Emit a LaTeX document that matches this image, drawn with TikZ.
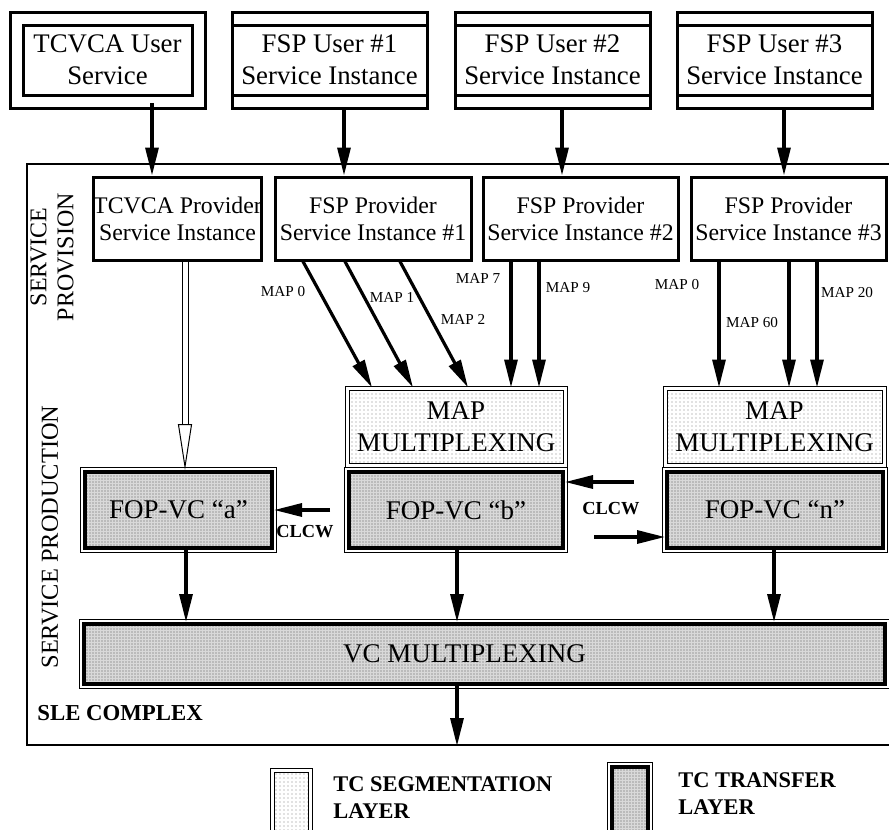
\documentclass[tikz,border=0pt]{standalone}
\usepackage{fontspec}
\setmainfont{Liberation Serif}
\usetikzlibrary{arrows.meta,patterns.meta}

\begin{document}
\begin{tikzpicture}[x=0.5pt,y=-0.5pt]
\tikzstyle{every node}=[inner sep=0pt]
\tikzstyle{usrsvc}=[rectangle, draw, line width=1.5pt, double, double distance=5pt, minimum width=91pt, minimum height=41.5pt, align=center, font=\fontsize{13.4}{16}\selectfont]
\tikzstyle{usr}=[rectangle, draw, line width=1.5pt, minimum width=97.5pt, minimum height=48pt, align=center, font=\fontsize{13.4}{16}\selectfont,
  path picture={\draw[line width=1.5pt] ([yshift=-6.5pt]path picture bounding box.north west) -- ([yshift=-6.5pt]path picture bounding box.north east)
    ([yshift=6.5pt]path picture bounding box.south west) -- ([yshift=6.5pt]path picture bounding box.south east);}]
\tikzstyle{prov}=[rectangle, draw, line width=1.5pt, minimum height=41.5pt, align=center, font=\fontsize{11.9}{13.5}\selectfont]
\tikzstyle{seg}=[rectangle, draw, line width=0.5pt, double, double distance=1.5pt, pattern={Dots[distance=2pt,radius=0.3pt]}, pattern color=gray, align=center, font=\fontsize{13.5}{16}\selectfont]
\tikzstyle{xfer}=[rectangle, draw, line width=2pt, preaction={fill=gray!30}, pattern={Dots[distance=1.5pt,radius=0.3pt]}, pattern color=gray!70!black, align=center, font=\fontsize{13.5}{16}\selectfont,
  append after command={\pgfextra{\draw[line width=0.5pt] ([shift={(-1.3pt,-1.3pt)}]\tikzlastnode.south west) rectangle ([shift={(1.3pt,1.3pt)}]\tikzlastnode.north east);}}]
\tikzstyle{arr}=[line width=1.6pt, -{Triangle[length=14pt,width=6.5pt]}]
\tikzstyle{hollow}=[line width=0.5pt, double, double distance=2.5pt, -{Triangle[open,length=23pt,width=7pt]}]
\tikzstyle{maplbl}=[font=\fontsize{7.6}{9}\selectfont]
\tikzstyle{clcw}=[font=\bfseries\fontsize{9.2}{11}\selectfont]
\tikzstyle{key}=[font=\bfseries\fontsize{11.2}{13.5}\selectfont, align=left, anchor=west]

\useasboundingbox (0,0) rectangle (889,830);
\clip (0,0) rectangle (889,830);

% users
\node[usrsvc] (tu) at (107.5,60) {TCVCA User\\Service};
\node[usr] (u1) at (329.5,60) {FSP User \#1\\Service Instance};
\node[usr] (u2) at (552.5,60) {FSP User \#2\\Service Instance};
\node[usr] (u3) at (774.5,60) {FSP User \#3\\Service Instance};

% SLE complex
\node[draw, line width=1pt, minimum width=431.5pt, minimum height=290.5pt] (sle) at (458.5,454.5) {};
\node[rotate=90, align=center, font=\fontsize{12}{13.5}\selectfont] (sprov) at (52,257) {SERVICE\\PROVISION};
\node[rotate=90, font=\fontsize{12.2}{14}\selectfont] (sprod) at (50,537) {SERVICE PRODUCTION};
\node[anchor=west, font=\bfseries\fontsize{11.4}{13}\selectfont] (slel) at (37,713) {SLE COMPLEX};

\node[prov, minimum width=83.5pt] (tp) at (177.5,218.5) {TCVCA Provider\\Service Instance};
\node[prov, minimum width=98pt] (p1) at (373,218.5) {FSP Provider\\Service Instance \#1};
\node[prov, minimum width=97.5pt] (p2) at (580.5,218.5) {FSP Provider\\Service Instance \#2};
\node[prov, minimum width=97.5pt] (p3) at (788.5,218.5) {FSP Provider\\Service Instance \#3};

\node[seg, minimum width=109pt, minimum height=38.5pt] (mb) at (456,426.5) {MAP\\MULTIPLEXING};
\node[seg, minimum width=109.5pt, minimum height=38.5pt] (mn) at (774.5,426.5) {MAP\\MULTIPLEXING};

\node[xfer, minimum width=93.5pt, minimum height=38pt] (fa) at (178.5,510) {FOP-VC ``a''};
\node[xfer, minimum width=107pt, minimum height=38pt] (fb) at (456,510) {FOP-VC ``b''};
\node[xfer, minimum width=108pt, minimum height=38pt] (fn) at (775,510) {FOP-VC ``n''};

\node[xfer, minimum width=400.5pt, minimum height=30pt,
  label={[xshift=-10pt, font=\fontsize{13.5}{16}\selectfont]center:VC MULTIPLEXING}] (vc) at (484.5,654) {};

% user to provider
\draw[arr] (tu.south -| 152,0) -- (tp.north -| 152,0);
\draw[arr] (u1.south -| 344,0) -- (p1.north -| 344,0);
\draw[arr] (u2.south -| 562,0) -- (p2.north -| 562,0);
\draw[arr] (u3.south -| 784,0) -- (p3.north -| 784,0);

% MAP channels
\draw[arr] (p1.south -| 303,0) -- (mb.north -| 372,0);
\draw[arr] (p1.south -| 345,0) -- (mb.north -| 413,0);
\draw[arr] (p1.south -| 400,0) -- (mb.north -| 468,0);
\draw[arr] (p2.south -| 511,0) -- (mb.north -| 511,0);
\draw[arr] (p2.south -| 539,0) -- (mb.north -| 539,0);
\draw[arr] (p3.south -| 719,0) -- (mn.north -| 719,0);
\draw[arr] (p3.south -| 789,0) -- (mn.north -| 789,0);
\draw[arr] (p3.south -| 817,0) -- (mn.north -| 817,0);
\node[maplbl] (m0) at (283,292) {MAP 0};
\node[maplbl] (m1) at (392,297) {MAP 1};
\node[maplbl] (m2) at (463,319) {MAP 2};
\node[maplbl] (m7) at (478,278) {MAP 7};
\node[maplbl] (m9) at (568,288) {MAP 9};
\node[maplbl] (m00) at (677,285) {MAP 0};
\node[maplbl] (m60) at (752,323) {MAP 60};
\node[maplbl] (m20) at (847,293) {MAP 20};

\draw[hollow] (tp.south -| 185,0) -- (fa.north -| 185,0);

% CLCW
\coordinate (ca) at (330,510);
\draw[arr] (ca) -- (fa.east);
\node[clcw] (cl1) at (305,532) {CLCW};
\coordinate (cb) at (634,482);
\draw[arr] (cb) -- (fb.east |- cb);
\coordinate (cn) at (594,537);
\draw[arr] (cn) -- (fn.west |- cn);
\node[clcw] (cl2) at (611,509) {CLCW};

% to VC multiplexing
\draw[arr] (fa.south -| 186,0) -- (vc.north -| 186,0);
\draw[arr] (fb.south -| 457,0) -- (vc.north -| 457,0);
\draw[arr] (fn.south -| 774,0) -- (vc.north -| 774,0);
\draw[arr] (vc.south -| 457,0) -- (sle.south -| 457,0);

% key
\node[seg, minimum width=19pt, minimum height=50pt] (kseg) at (291,820) {};
\node[key] (ksegt) at (333,798) {TC SEGMENTATION\\LAYER};
\node[xfer, minimum width=18pt, minimum height=51.5pt] (kxfer) at (630,818.5) {};
\node[key] (kxfert) at (678,794) {TC TRANSFER\\LAYER};

\end{tikzpicture}
\end{document}
